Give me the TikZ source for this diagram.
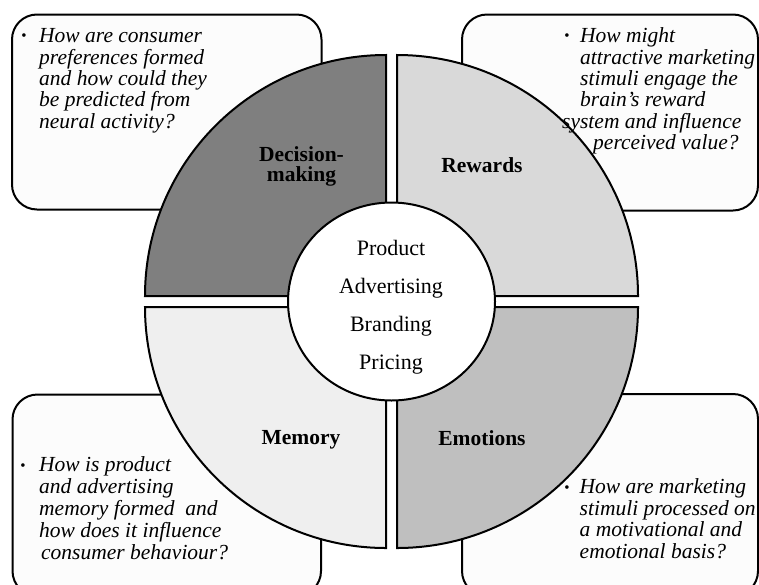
\documentclass[tikz,border=0pt]{standalone}
\usepackage{fontspec}
\setmainfont{Liberation Serif}
\definecolor{boxfill}{HTML}{FCFCFC}
\definecolor{decide}{HTML}{7F7F7F}
\definecolor{reward}{HTML}{D9D9D9}
\definecolor{memory}{HTML}{EFEFEF}
\definecolor{emotion}{HTML}{BFBFBF}
\begin{document}
\begin{tikzpicture}[x=1pt,y=-1pt,
  qbox/.style={draw=black,line width=2pt,rounded corners=25pt,fill=boxfill},
  quad/.style={draw=black,line width=2pt},
  qline/.style={anchor=base west,inner sep=0pt,font=\fontsize{21.5}{21.5}\selectfont\itshape},
  bul/.style={inner sep=0pt,font=\fontsize{15}{15}\selectfont},
  seg/.style={anchor=base,inner sep=0pt,font=\fontsize{21.5}{21.5}\selectfont\bfseries},
  hubtext/.style={anchor=base,inner sep=0pt,font=\fontsize{22}{22}\selectfont}]
\useasboundingbox (0,0) rectangle (759,584);
\clip (0,0) rectangle (759,584);

% question boxes (behind the wheel)
\path[qbox] (12,14.5) rectangle (321.5,209.5);
\path[qbox] (462,14.5) rectangle (758,210.5);
\path[qbox] (12.5,394.5) rectangle (321,596);
\path[qbox] (462,394) rectangle (758,596);

% the four quarter segments
\path[quad,fill=decide]  (386,296) -- (145,296) arc[start angle=180,end angle=270,radius=241] -- cycle;
\path[quad,fill=reward]  (397,296) -- (397,55)  arc[start angle=270,end angle=360,radius=241] -- cycle;
\path[quad,fill=emotion] (397,307) -- (638,307) arc[start angle=0,end angle=90,radius=241] -- cycle;
\path[quad,fill=memory]  (386,307) -- (386,548) arc[start angle=90,end angle=180,radius=241] -- cycle;

% central hub
\draw[line width=2pt,fill=white] (391.5,301.5) ellipse[x radius=103.5,y radius=99];
\node[hubtext] (hub1) at (391,255) {Product};
\node[hubtext] (hub2) at (391,293) {Advertising};
\node[hubtext] (hub3) at (391,331) {Branding};
\node[hubtext] (hub4) at (391,369) {Pricing};

% segment labels
\node[seg] (dm1) at (301.5,161.7) {Decision-};
\node[seg] (dm2) at (301.5,181.7) {making};
\node[seg] (rw)  at (482,172) {Rewards};
\node[seg] (mem) at (301,444) {Memory};
\node[seg] (emo) at (482,445) {Emotions};

% questions
\node[bul] (btl) at (24,37.5) {•};
\foreach \t [count=\i] in {How are consumer,preferences formed,and how could they,be predicted from,neural activity?}
  \node[qline] (tl\i) at ({39},{42.7+21.4*(\i-1)}) {\t};

\node[bul] (btr) at (567,37.5) {•};
\foreach \x/\t [count=\i] in {580/How might,580/attractive marketing,580/stimuli engage the,580/brain’s reward,562/system and influence,593/perceived value?}
  \node[qline] (tr\i) at ({\x},{42.7+21.4*(\i-1)}) {\t};

\node[bul] (bbl) at (23,467) {•};
\foreach \x/\t [count=\i] in {39/How is product,39/and advertising,39/memory formed~ and,39/how does it influence,41/consumer behaviour?}
  \node[qline] (bl\i) at ({\x},{471.7+21.9*(\i-1)}) {\t};

\node[bul] (bbr) at (567,489) {•};
\foreach \t [count=\i] in {How are marketing,stimuli processed on,a motivational and,emotional basis?}
  \node[qline] (br\i) at ({579.5},{493.3+21.7*(\i-1)}) {\t};
\end{tikzpicture}
\end{document}
